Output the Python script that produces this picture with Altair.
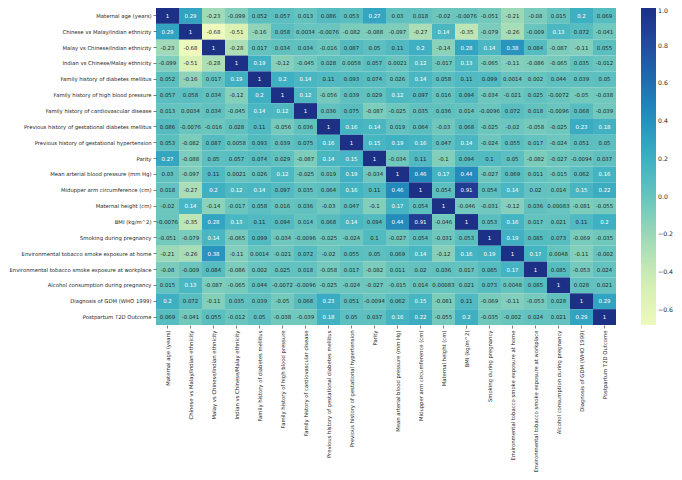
import altair as alt
import pandas as pd

labels = [
    "Maternal age (years)",
    "Chinese vs Malay/Indian ethnicity",
    "Malay vs Chinese/Indian ethnicity",
    "Indian vs Chinese/Malay ethnicity",
    "Family history of diabetes mellitus",
    "Family history of high blood pressure",
    "Family history of cardiovascular disease",
    "Previous history of gestational diabetes mellitus",
    "Previous history of gestational hypertension",
    "Parity",
    "Mean arterial blood pressure (mm Hg)",
    "Midupper arm circumference (cm)",
    "Maternal height (cm)",
    "BMI (kg/m^2)",
    "Smoking during pregnancy",
    "Environmental tobacco smoke exposure at home",
    "Environmental tobacco smoke exposure at workplace",
    "Alcohol consumption during pregnancy",
    "Diagnosis of GDM (WHO 1999)",
    "Postpartum T2D Outcome",
]

corr = [
    [1, 0.29, -0.23, -0.099, 0.052, 0.057, 0.013, 0.086, 0.053, 0.27, 0.03, 0.018, -0.02, -0.0076, -0.051, -0.21, -0.08, 0.015, 0.2, 0.069],
    [0.29, 1, -0.68, -0.51, -0.16, 0.058, 0.0034, -0.0076, -0.082, -0.088, -0.097, -0.27, 0.14, -0.35, -0.079, -0.26, -0.009, 0.13, 0.072, -0.041],
    [-0.23, -0.68, 1, -0.28, 0.017, 0.034, 0.034, -0.016, 0.087, 0.05, 0.11, 0.2, -0.14, 0.28, 0.14, 0.38, 0.084, -0.087, -0.11, 0.055],
    [-0.099, -0.51, -0.28, 1, 0.19, -0.12, -0.045, 0.028, 0.0058, 0.057, 0.0021, 0.12, -0.017, 0.13, -0.065, -0.11, -0.086, -0.065, 0.035, -0.012],
    [0.052, -0.16, 0.017, 0.19, 1, 0.2, 0.14, 0.11, 0.093, 0.074, 0.026, 0.14, 0.058, 0.11, 0.099, 0.0014, 0.002, 0.044, 0.039, 0.05],
    [0.057, 0.058, 0.034, -0.12, 0.2, 1, 0.12, -0.056, 0.039, 0.029, 0.12, 0.097, 0.016, 0.094, -0.034, -0.021, 0.025, -0.0072, -0.05, -0.038],
    [0.013, 0.0034, 0.034, -0.045, 0.14, 0.12, 1, 0.036, 0.075, -0.087, -0.025, 0.035, 0.036, 0.014, -0.0096, 0.072, 0.018, -0.0096, 0.068, -0.039],
    [0.086, -0.0076, -0.016, 0.028, 0.11, -0.056, 0.036, 1, 0.16, 0.14, 0.019, 0.064, -0.03, 0.068, -0.025, -0.02, -0.058, -0.025, 0.23, 0.18],
    [0.053, -0.082, 0.087, 0.0058, 0.093, 0.039, 0.075, 0.16, 1, 0.15, 0.19, 0.16, 0.047, 0.14, -0.024, 0.055, 0.017, -0.024, 0.051, 0.05],
    [0.27, -0.088, 0.05, 0.057, 0.074, 0.029, -0.087, 0.14, 0.15, 1, -0.034, 0.11, -0.1, 0.094, 0.1, 0.05, -0.082, -0.027, -0.0094, 0.037],
    [0.03, -0.097, 0.11, 0.0021, 0.026, 0.12, -0.025, 0.019, 0.19, -0.034, 1, 0.46, 0.17, 0.44, -0.027, 0.069, 0.011, -0.015, 0.062, 0.16],
    [0.018, -0.27, 0.2, 0.12, 0.14, 0.097, 0.035, 0.064, 0.16, 0.11, 0.46, 1, 0.054, 0.91, 0.054, 0.14, 0.02, 0.014, 0.15, 0.22],
    [-0.02, 0.14, -0.14, -0.017, 0.058, 0.016, 0.036, -0.03, 0.047, -0.1, 0.17, 0.054, 1, -0.046, -0.031, -0.12, 0.036, 0.00083, -0.081, -0.055],
    [-0.0076, -0.35, 0.28, 0.13, 0.11, 0.094, 0.014, 0.068, 0.14, 0.094, 0.44, 0.91, -0.046, 1, 0.053, 0.16, 0.017, 0.021, 0.11, 0.2],
    [-0.051, -0.079, 0.14, -0.065, 0.099, -0.034, -0.0096, -0.025, -0.024, 0.1, -0.027, 0.054, -0.031, 0.053, 1, 0.19, 0.085, 0.073, -0.069, -0.035],
    [-0.21, -0.26, 0.38, -0.11, 0.0014, -0.021, 0.072, -0.02, 0.055, 0.05, 0.069, 0.14, -0.12, 0.16, 0.19, 1, 0.17, 0.0048, -0.11, -0.002],
    [-0.08, -0.009, 0.084, -0.086, 0.002, 0.025, 0.018, -0.058, 0.017, -0.082, 0.011, 0.02, 0.036, 0.017, 0.085, 0.17, 1, 0.085, -0.053, 0.024],
    [0.015, 0.13, -0.087, -0.065, 0.044, -0.0072, -0.0096, -0.025, -0.024, -0.027, -0.015, 0.014, 0.00083, 0.021, 0.073, 0.0048, 0.085, 1, 0.028, 0.021],
    [0.2, 0.072, -0.11, 0.035, 0.039, -0.05, 0.068, 0.23, 0.051, -0.0094, 0.062, 0.15, -0.081, 0.11, -0.069, -0.11, -0.053, 0.028, 1, 0.29],
    [0.069, -0.041, 0.055, -0.012, 0.05, -0.038, -0.039, 0.18, 0.05, 0.037, 0.16, 0.22, -0.055, 0.2, -0.035, -0.002, 0.024, 0.021, 0.29, 1],
]

legend_ticks = [-0.6, -0.4, -0.2, 0.0, 0.2, 0.4, 0.6, 0.8, 1.0]

rows = []
for i, rl in enumerate(labels):
    for j, cl in enumerate(labels):
        v = corr[i][j]
        rows.append({"row": rl, "col": cl, "value": v, "label": format(v, ".2g")})
df = pd.DataFrame(rows)

FONT = "DejaVu Sans"
LAB = 5.3

x_enc = alt.X("col:N", sort=labels, title=None,
              scale=alt.Scale(paddingInner=0, paddingOuter=0),
              axis=alt.Axis(labelAngle=270, labelFontSize=LAB, labelFont=FONT,
                            labelColor="#262626", tickSize=3, tickColor="#262626",
                            tickWidth=0.6, domain=False, labelPadding=2,
                            labelLimit=300))
y_enc = alt.Y("row:N", sort=labels, title=None,
              scale=alt.Scale(paddingInner=0, paddingOuter=0),
              axis=alt.Axis(labelFontSize=LAB, labelFont=FONT, labelColor="#262626",
                            tickSize=3, tickColor="#262626", tickWidth=0.6,
                            domain=False, labelPadding=2, labelLimit=300))

rect = alt.Chart(df).mark_rect(stroke=None).encode(
    x=x_enc,
    y=y_enc,
    color=alt.Color("value:Q",
                    scale=alt.Scale(scheme="yellowgreenblue", domain=[-0.68, 1],
                                    nice=False, zero=False),
                    legend=alt.Legend(title=None, values=legend_ticks, format=".1f",
                                      gradientLength=317, gradientThickness=15,
                                      labelFontSize=6.2, labelFont=FONT,
                                      labelColor="#262626", offset=25,
                                      labelOffset=2, padding=0, labelLimit=40,
                                      gradientStrokeWidth=0, labelOverlap=False)),
)

text = alt.Chart(df).mark_text(fontSize=5.4, font=FONT).encode(
    x=alt.X("col:N", sort=labels),
    y=alt.Y("row:N", sort=labels),
    text="label:N",
    color=alt.condition(alt.datum.value >= 0.115, alt.value("white"), alt.value("#262626")),
)

chart = alt.layer(rect, text).properties(
    width=460, height=317,
    autosize=alt.AutoSizeParams(type="none"),
    padding={"left": 148, "top": 0, "right": 58, "bottom": 147},
).configure_view(stroke=None)

chart.save("out.html", embed_options={"renderer": "svg", "actions": False})
